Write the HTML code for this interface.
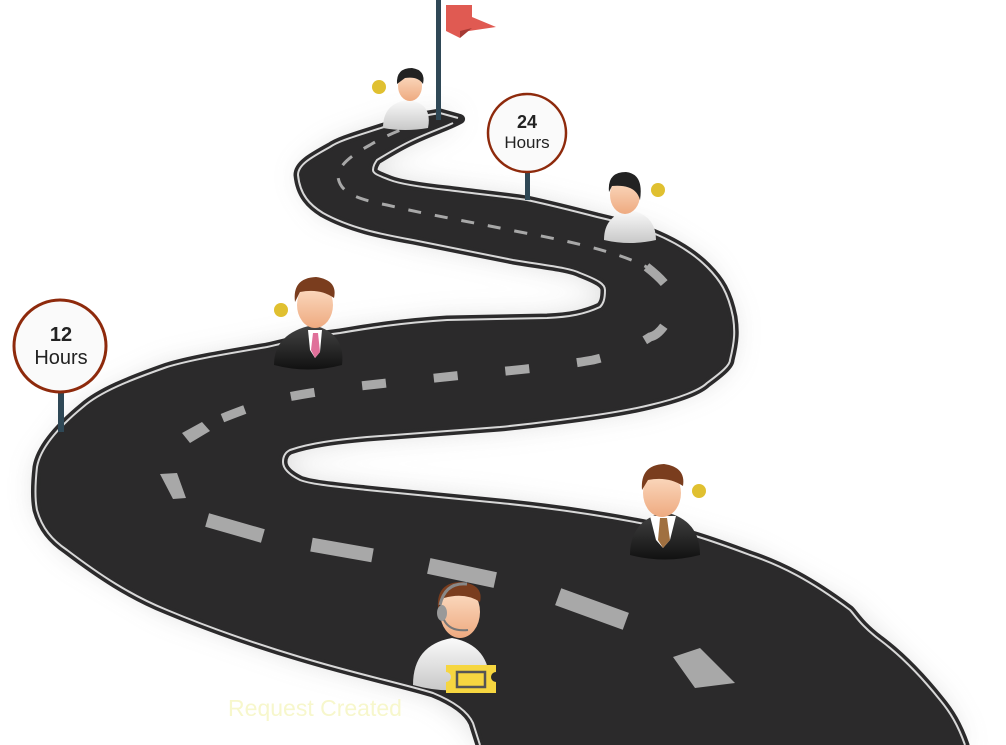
<!DOCTYPE html>
<html><head><meta charset="utf-8"><style>
html,body{margin:0;padding:0;background:#fff;}
svg{display:block}
</style></head><body>
<svg width="1006" height="745" viewBox="0 0 1006 745" xmlns="http://www.w3.org/2000/svg">
<defs>
<filter id="sh" x="-10%" y="-10%" width="120%" height="120%"><feGaussianBlur stdDeviation="14"/></filter>
<linearGradient id="skin" x1="0" y1="0" x2="0" y2="1"><stop offset="0" stop-color="#fde0c8"/><stop offset="1" stop-color="#eeaa80"/></linearGradient>
<linearGradient id="white" x1="0" y1="0" x2="0" y2="1"><stop offset="0" stop-color="#fafafa"/><stop offset="1" stop-color="#c8c8c8"/></linearGradient>
<linearGradient id="suit" x1="0" y1="0" x2="0" y2="1"><stop offset="0" stop-color="#444"/><stop offset="1" stop-color="#111"/></linearGradient>
</defs>
<g id="road">
<path d="M458,118 L440,113 L390,125 L330,147 L298,175 L323,213 L413,240 L513,260 L580,273 L605,290 L600,307 L547,318 L447,320 L340,333 L267,347 L167,367 L83,407 L37,467 L37,510 L67,550 L167,610 L300,657 L433,693 L473,723 L480,745 L965,745 L940,700 L880,640 L850,610 L750,555 L650,525 L500,503 L367,490 L300,480 L283,462 L290,450 L367,437 L500,427 L560,420 L650,405 L707,383 L730,360 L733,317 L707,267 L653,233 L597,217 L527,200 L447,190 L390,180 L373,170 L377,160 L413,140 L453,123 Z" fill="#999" opacity="0.35" filter="url(#sh)" stroke-linejoin="round"/>
<path d="M458,118 L440,113 C420,116 400,121 390,125 C360,135 340,140 330,147 C310,158 298,165 298,175 C300,195 310,205 323,213 C350,228 380,234 413,240 L513,260 C550,266 570,268 580,273 C598,280 605,284 605,290 C605,300 603,304 600,307 C585,314 570,317 547,318 L447,320 C400,323 370,328 340,333 C300,338 290,342 267,347 C220,355 190,360 167,367 C130,380 100,392 83,407 C55,430 40,450 37,467 C35,485 35,500 37,510 C42,528 52,540 67,550 C100,575 130,595 167,610 C210,628 260,645 300,657 C360,675 400,683 433,693 C455,702 468,712 473,723 L480,745 L965,745 C958,725 950,712 940,700 C920,675 900,655 880,640 C860,625 855,615 850,610 C810,580 780,565 750,555 C710,540 680,530 650,525 C600,515 550,508 500,503 L367,490 C330,486 310,484 300,480 C288,474 283,468 283,462 C283,456 286,452 290,450 C310,443 335,440 367,437 L500,427 C530,424 545,422 560,420 C600,415 630,410 650,405 C680,398 700,390 707,383 C722,372 730,365 730,360 C735,340 735,330 733,317 C728,292 720,280 707,267 C690,250 670,240 653,233 C630,225 615,221 597,217 C570,210 550,205 527,200 C500,196 470,193 447,190 C420,187 400,184 390,180 C380,176 373,174 373,170 C373,166 375,163 377,160 C390,152 400,146 413,140 C430,132 445,127 453,123 C462,119 462,119 458,118 Z" fill="#2b2a2b" stroke="#2b2a2b" stroke-width="9" stroke-linejoin="round"/>
<path d="M458,118 L440,113 C420,116 400,121 390,125 C360,135 340,140 330,147 C310,158 298,165 298,175 C300,195 310,205 323,213 C350,228 380,234 413,240 L513,260 C550,266 570,268 580,273 C598,280 605,284 605,290 C605,300 603,304 600,307 C585,314 570,317 547,318 L447,320 C400,323 370,328 340,333 C300,338 290,342 267,347 C220,355 190,360 167,367 C130,380 100,392 83,407 C55,430 40,450 37,467 C35,485 35,500 37,510 C42,528 52,540 67,550 C100,575 130,595 167,610 C210,628 260,645 300,657 C360,675 400,683 433,693 C455,702 468,712 473,723 L480,745" fill="none" stroke="#d8d8d8" stroke-width="2"/>
<path d="M965,745 C958,725 950,712 940,700 C920,675 900,655 880,640 C860,625 855,615 850,610 C810,580 780,565 750,555 C710,540 680,530 650,525 C600,515 550,508 500,503 L367,490 C330,486 310,484 300,480 C288,474 283,468 283,462 C283,456 286,452 290,450 C310,443 335,440 367,437 L500,427 C530,424 545,422 560,420 C600,415 630,410 650,405 C680,398 700,390 707,383 C722,372 730,365 730,360 C735,340 735,330 733,317 C728,292 720,280 707,267 C690,250 670,240 653,233 C630,225 615,221 597,217 C570,210 550,205 527,200 C500,196 470,193 447,190 C420,187 400,184 390,180 C380,176 373,174 373,170 C373,166 375,163 377,160 C390,152 400,146 413,140 C430,132 445,127 453,123" fill="none" stroke="#d8d8d8" stroke-width="2"/>
<!-- center dashes -->
<path d="M425,122 C405,127 385,136 370,145 C350,156 338,166 338,177 C340,190 350,198 387,205 C420,213 450,218 520,232 C580,243 630,255 657,273" fill="none" stroke="#a8a8a8" stroke-width="3" stroke-dasharray="13,14"/>
<path d="M640,262 C665,280 676,295 673,305 C670,320 660,335 650,337 C630,350 610,356 593,360 C560,366 500,372 463,375 C420,380 370,384 330,390 C290,396 270,400 257,405 C230,415 210,422 195,432" fill="none" stroke="#a8a8a8" stroke-width="9" stroke-dasharray="0,8,24,40"/>
<g fill="#a8a8a8">
<polygon points="182,433 202,422 210,431 190,443"/>
<polygon points="160,474 177,473 186,498 173,499"/>
<rect x="-29" y="-7" width="58" height="14" transform="translate(235,528) rotate(16)"/>
<rect x="-31" y="-7" width="62" height="14" transform="translate(342,550) rotate(10)"/>
<rect x="-34" y="-8" width="68" height="16" transform="translate(462,573) rotate(12)"/>
<rect x="-36" y="-9" width="72" height="18" transform="translate(592,609) rotate(20)"/>
<polygon points="673,657 700,648 735,683 695,688"/>
</g>
</g>

<!-- flag -->
<rect x="436" y="0" width="5" height="120" fill="#2f4856"/>
<polygon points="446,5 472,5 472,17 496,27 462,32 460,38 446,31" fill="#e05a52"/>
<polygon points="460,31 472,28 460,38" fill="#a63a35"/>

<!-- 24 Hours sign -->
<rect x="525" y="170" width="5" height="30" fill="#2f4856"/>
<circle cx="527" cy="133" r="39" fill="#fafafa" stroke="#8e2a0c" stroke-width="2.5"/>
<text x="527" y="128" font-family="Liberation Sans, sans-serif" font-weight="bold" font-size="18" fill="#222" text-anchor="middle">24</text>
<text x="527" y="148" font-family="Liberation Sans, sans-serif" font-size="17" fill="#222" text-anchor="middle">Hours</text>

<!-- 12 Hours sign -->
<rect x="58" y="390" width="6" height="42" fill="#2f4856"/>
<circle cx="60" cy="346" r="46" fill="#fafafa" stroke="#8e2a0c" stroke-width="3"/>
<text x="61" y="341" font-family="Liberation Sans, sans-serif" font-weight="bold" font-size="20" fill="#222" text-anchor="middle">12</text>
<text x="61" y="364" font-family="Liberation Sans, sans-serif" font-size="20" fill="#222" text-anchor="middle">Hours</text>

<!-- dots -->
<g fill="#e0c030">
<circle cx="379" cy="87" r="7"/><circle cx="658" cy="190" r="7"/><circle cx="281" cy="310" r="7"/><circle cx="699" cy="491" r="7"/>
</g>

<!-- top person (white robe) -->
<g>
<path d="M383,128 Q383,103 408,100 Q433,103 428,128 Q405,132 383,128Z" fill="url(#white)"/>
<ellipse cx="410" cy="86" rx="12" ry="15" fill="url(#skin)"/>
<path d="M397,84 Q396,68 412,68 Q426,70 423,84 Q418,76 405,78 Z" fill="#222"/>
</g>
<!-- 24h person -->
<g>
<path d="M604,240 Q604,215 630,210 Q656,215 656,240 Q630,246 604,240Z" fill="url(#white)"/>
<ellipse cx="625" cy="195" rx="15" ry="19" fill="url(#skin)"/>
<path d="M609,192 Q607,172 626,172 Q644,174 640,200 Q636,184 612,186 Z" fill="#222"/>
</g>
<!-- pink tie businessman -->
<g>
<path d="M274,365 Q274,333 313,325 Q346,333 342,365 Q308,374 274,365Z" fill="url(#suit)"/>
<polygon points="308,330 322,330 320,352 315,358 310,350" fill="#fff"/>
<polygon points="313,333 318,333 320,352 315,358 311,350" fill="#e0709a"/>
<ellipse cx="315" cy="305" rx="18" ry="23" fill="url(#skin)"/>
<path d="M295,302 Q292,278 316,277 Q338,280 334,298 Q320,288 300,292 Z" fill="#7a3d1e"/>
</g>
<!-- brown tie businessman -->
<g>
<path d="M630,555 Q630,520 665,512 Q700,520 700,555 Q665,564 630,555Z" fill="url(#suit)"/>
<polygon points="650,516 676,516 670,540 663,548 656,540" fill="#fff"/>
<polygon points="660,518 667,518 670,540 663,548 658,540" fill="#a07040"/>
<ellipse cx="662" cy="493" rx="19" ry="24" fill="url(#skin)"/>
<path d="M642,490 Q640,465 664,464 Q686,467 683,486 Q668,476 648,480 Z" fill="#7a3d1e"/>
</g>
<!-- headset person -->
<g>
<path d="M413,685 Q413,645 452,638 Q490,645 490,685 Q452,696 413,685Z" fill="url(#white)"/>
<ellipse cx="460" cy="612" rx="20" ry="26" fill="url(#skin)"/>
<path d="M438,608 Q436,582 462,582 Q484,585 480,602 Q465,592 444,598 Z" fill="#7a3d1e"/>
<path d="M440,605 Q445,582 467,584" fill="none" stroke="#888" stroke-width="3"/>
<ellipse cx="442" cy="613" rx="5" ry="8" fill="#999"/>
<path d="M444,620 Q450,632 468,630" fill="none" stroke="#777" stroke-width="2"/>
</g>
<!-- ticket -->
<path d="M446,665 h50 v7 a4,4 0 0,0 0,10 v11 h-50 v-11 a4,4 0 0,0 0,-10 Z" fill="#f6d640"/>
<rect x="457" y="672" width="28" height="15" fill="none" stroke="#555" stroke-width="2.5"/>

<text x="315" y="716" font-family="Liberation Sans, sans-serif" font-size="23" fill="#f7f7cc" text-anchor="middle">Request Created</text>
</svg>
</body></html>
